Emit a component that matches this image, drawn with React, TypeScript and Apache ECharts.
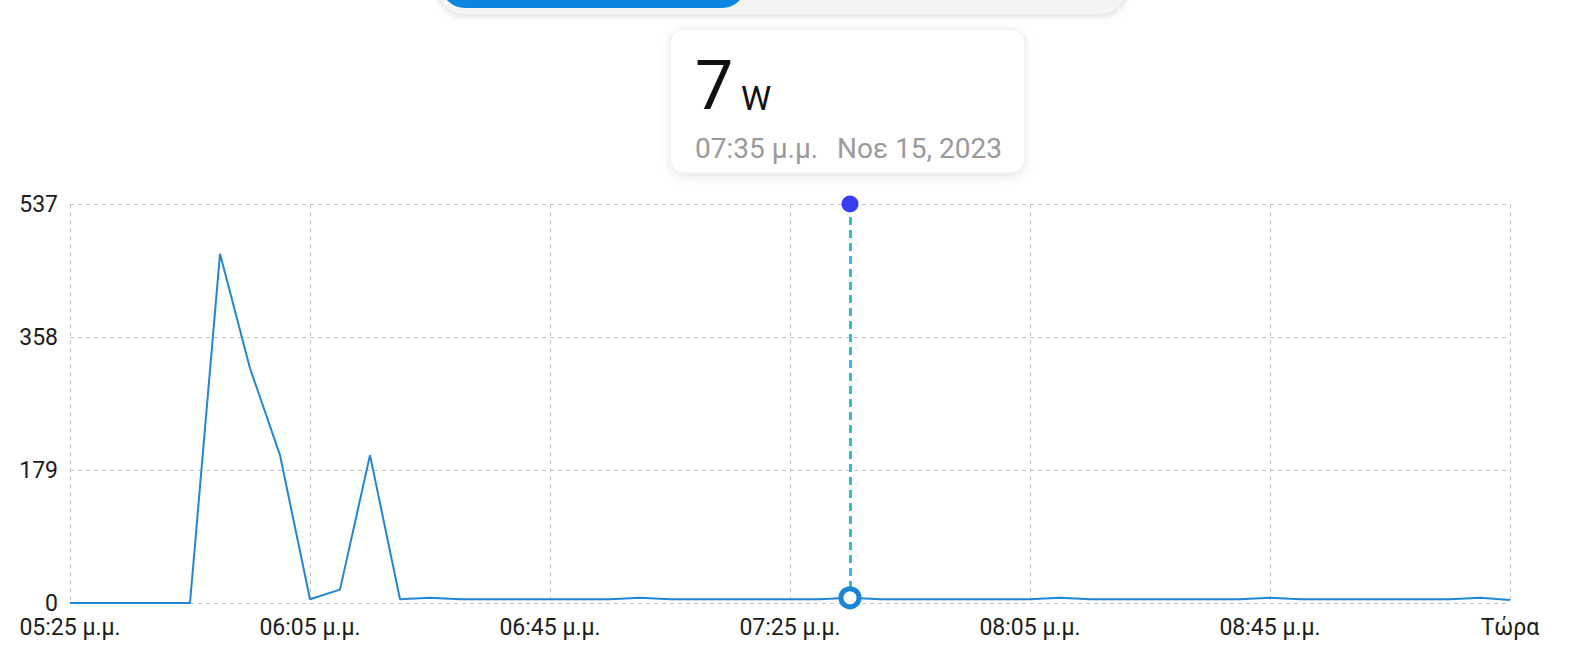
import React, { useEffect, useRef } from 'react';
import * as echarts from 'echarts';

// Power samples, one every five minutes (24h clock)
const sampleTimes = [
  '17:25', '17:30', '17:35', '17:40', '17:45', '17:50', '17:55', '18:00',
  '18:05', '18:10', '18:15', '18:20', '18:25', '18:30', '18:35', '18:40',
  '18:45', '18:50', '18:55', '19:00', '19:05', '19:10', '19:15', '19:20',
  '19:25', '19:30', '19:35', '19:40', '19:45', '19:50', '19:55', '20:00',
  '20:05', '20:10', '20:15', '20:20', '20:25', '20:30', '20:35', '20:40',
  '20:45', '20:50', '20:55', '21:00', '21:05', '21:10', '21:15', '21:20',
  '21:25',
];
const powerWatts = [
  0, 0, 0, 0, 0, 470, 316, 199,
  5, 18, 199, 5, 7, 5, 5, 5,
  5, 5, 5, 7, 5, 5, 5, 5,
  5, 5, 7, 5, 5, 5, 5, 5,
  5, 7, 5, 5, 5, 5, 5, 5,
  7, 5, 5, 5, 5, 5, 5, 7,
  4,
];

const axisStartTime = '17:25';
const xTickStepMinutes = 40;
const xTickLabels = ['05:25 μ.μ.', '06:05 μ.μ.', '06:45 μ.μ.', '07:25 μ.μ.', '08:05 μ.μ.', '08:45 μ.μ.', 'Τώρα'];
const yAxisMax = 537;
const yAxisStep = 179;

// Highlighted reading
const selectedTime = '19:35';
const selectedUnit = 'W';
const selectedTimeLabel = '07:35 μ.μ.';
const selectedDateLabel = 'Νοε 15, 2023';

const FONT = 'Roboto, "Noto Sans", sans-serif';

function toMinutes(t: string): number {
  const [h, m] = t.split(':').map(Number);
  return h * 60 + m;
}

export default function App() {
  const ref = useRef<HTMLDivElement>(null);

  useEffect(() => {
    if (!ref.current) return;
    const chart = echarts.init(ref.current, undefined, { renderer: 'svg' });

    const start = toMinutes(axisStartTime);
    const points = sampleTimes.map((t, i) => [toMinutes(t) - start, powerWatts[i]]);
    const selIdx = sampleTimes.indexOf(selectedTime);
    const selX = toMinutes(selectedTime) - start;
    const selValue = powerWatts[selIdx];

    const grid = '#c4c4c4';

    chart.setOption({
      animation: false,
      backgroundColor: '#ffffff',
      grid: { left: 70, right: 60, top: 204, bottom: 53 },
      xAxis: {
        type: 'value',
        min: 0,
        max: (xTickLabels.length - 1) * xTickStepMinutes,
        interval: xTickStepMinutes,
        axisLine: { show: false },
        axisTick: { show: false },
        splitLine: { show: true, lineStyle: { color: grid, type: [4, 4], width: 1 } },
        axisLabel: {
          margin: 15,
          fontSize: 23,
          lineHeight: 18,
          fontFamily: FONT,
          color: '#1c1c1c',
          formatter: (v: number) => xTickLabels[Math.round(v / xTickStepMinutes)] ?? '',
        },
      },
      yAxis: {
        type: 'value',
        min: 0,
        max: yAxisMax,
        interval: yAxisStep,
        axisLine: { show: false },
        axisTick: { show: false },
        splitLine: { show: true, lineStyle: { color: grid, type: [4, 4], width: 1 } },
        axisLabel: { margin: 12, fontSize: 23, lineHeight: 18, fontFamily: FONT, color: '#1c1c1c' },
      },
      series: [
        {
          type: 'line',
          data: points,
          showSymbol: false,
          symbol: 'none',
          lineStyle: { color: '#1f87d5', width: 2 },
          z: 2,
          markLine: {
            silent: true,
            symbol: ['none', 'none'],
            label: { show: false },
            lineStyle: { color: '#2cbfdc', width: 3, type: [8, 5] },
            data: [[{ coord: [selX, yAxisMax] }, { coord: [selX, selValue] }]],
          },
        },
        {
          type: 'scatter',
          z: 5,
          silent: true,
          data: [
            {
              value: [selX, yAxisMax],
              symbol: 'circle',
              symbolSize: 17,
              itemStyle: { color: '#3a3cf2', opacity: 1 },
            },
            {
              value: [selX, selValue],
              symbol: 'circle',
              symbolSize: 18,
              itemStyle: { color: '#ffffff', borderColor: '#1a85d6', borderWidth: 5, opacity: 1 },
            },
          ],
        },
      ],
      graphic: [
        // segmented control at the top edge
        {
          type: 'rect',
          shape: { x: 437, y: -40, width: 690, height: 55, r: 27 },
          style: {
            fill: '#f4f4f4',
            stroke: '#e4e4e4',
            lineWidth: 1,
            shadowBlur: 6,
            shadowColor: 'rgba(0,0,0,0.10)',
            shadowOffsetY: 2,
          },
        },
        {
          type: 'rect',
          shape: { x: 441, y: -40, width: 305, height: 48, r: 24 },
          style: { fill: '#0a86e0' },
        },
        // readout card
        {
          type: 'rect',
          shape: { x: 670, y: 29, width: 355, height: 144, r: 14 },
          style: {
            fill: '#ffffff',
            stroke: '#ebebeb',
            lineWidth: 1,
            shadowBlur: 10,
            shadowColor: 'rgba(0,0,0,0.10)',
            shadowOffsetY: 3,
          },
        },
        {
          type: 'text',
          x: 695,
          y: 86,
          style: {
            text: String(selValue),
            fontSize: 68,
            fontFamily: FONT,
            fill: '#111111',
            align: 'left',
            verticalAlign: 'middle',
          },
        },
        {
          type: 'text',
          x: 741,
          y: 98,
          style: {
            text: selectedUnit,
            fontSize: 34,
            fontFamily: FONT,
            fill: '#111111',
            align: 'left',
            verticalAlign: 'middle',
          },
        },
        {
          type: 'text',
          x: 695,
          y: 148,
          style: {
            text: selectedTimeLabel,
            fontSize: 28,
            fontFamily: FONT,
            fill: '#9a9a9a',
            align: 'left',
            verticalAlign: 'middle',
          },
        },
        {
          type: 'text',
          x: 837,
          y: 148,
          style: {
            text: selectedDateLabel,
            fontSize: 28,
            fontFamily: FONT,
            fill: '#9a9a9a',
            align: 'left',
            verticalAlign: 'middle',
          },
        },
      ],
    });

    return () => chart.dispose();
  }, []);

  return (
    <div
      ref={ref}
      style={{ position: 'fixed', left: 0, top: 0, width: 1570, height: 656, background: '#ffffff' }}
    />
  );
}
